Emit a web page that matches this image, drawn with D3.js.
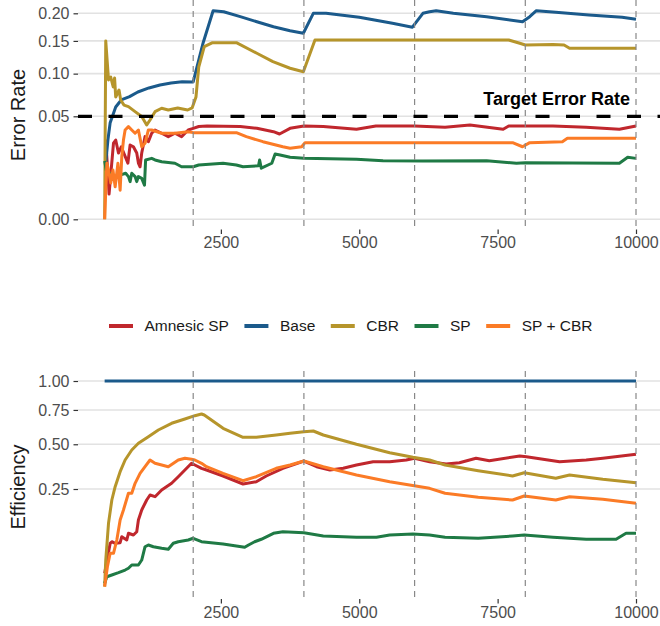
<!DOCTYPE html>
<html>
<head>
<meta charset="utf-8">
<script src="https://cdn.jsdelivr.net/npm/d3@7"></script>
<style>
  body { margin: 0; background: #fff; }
  svg { display: block; font-family: 'Liberation Sans', Arial, sans-serif; }
</style>
</head>
<body>
<svg id="chart" width="660" height="626"></svg>
<script>
// methods, in legend order
const methods = ['Amnesic SP', 'Base', 'CBR', 'SP', 'SP + CBR']
const colours = ['#c0272d', '#1b5a8b', '#b6952b', '#1f7a45', '#fb7b26']

const errorTicks = [0, 0.05, 0.1, 0.15, 0.2]
const efficiencyTicks = [0.25, 0.5, 0.75, 1]
const stepTicks = [2500, 5000, 7500, 10000]
const changePoints = [2000, 4000, 6000, 8000, 10000]
const targetErrorRate = 0.05

// error rate, [step, value]
const errorAmnesicSP = [[420,.03],[480,.003],[560,.0274],[600,.0296],[650,.0207],[700,.0248],[820,.0149],[860,.026],[920,.0248],[980,.0207],[1010,.0149],[1040,.013],[1070,.0207],[1130,.0322],[1190,.0284],[1250,.0349],[1310,.0376],[1430,.0349],[1550,.0322],[1670,.0349],[1790,.0322],[1910,.0376],[2000,.039],[2100,.0406],[2250,.041],[2850,.0405],[3150,.039],[3450,.0362],[3560,.0343],[3750,.039],[4000,.041],[4350,.0405],[4950,.0382],[5300,.041],[6000,.041],[6550,.0399],[7000,.0419],[7600,.0382],[7700,.041],[8500,.041],[9100,.0399],[9700,.0382],[10000,.041]]
const errorBase = [[420,.015],[460,.03],[500,.044],[600,.0594],[700,.0671],[850,.0709],[1000,.0764],[1200,.0813],[1400,.085],[1600,.0876],[1800,.0892],[2000,.089],[2180,.147],[2360,.205],[2550,.2031],[2850,.1935],[3150,.184],[3450,.1748],[3750,.1677],[3990,.1631],[4170,.2],[4400,.2],[5000,.1923],[5600,.1811],[5960,.174],[6150,.2],[6270,.203],[6390,.205],[6700,.2],[7300,.1935],[7950,.184],[8080,.1935],[8200,.205],[8550,.202],[9150,.1968],[9750,.1923],[10000,.1885]]
const errorCBR = [[400,0],[420,.15],[470,.0915],[510,.0954],[555,.0825],[580,.094],[600,.0705],[660,.0788],[690,.0671],[750,.0615],[830,.0598],[950,.0546],[1070,.0498],[1160,.0419],[1220,.0465],[1310,.0546],[1430,.0581],[1550,.0563],[1720,.0584],[1900,.0563],[1980,.0584],[2050,.0705],[2100,.1093],[2200,.1404],[2350,.147],[2780,.147],[3150,.1299],[3440,.1171],[3750,.1075],[3990,.1027],[4200,.1515],[7700,.1515],[7900,.146],[8000,.1432],[8500,.144],[8700,.1432],[8800,.1378],[10000,.1378]]
const errorSP = [[400,.016],[440,.01],[500,.01],[600,.0086],[690,.0093],[780,.01],[830,.0086],[860,.0067],[890,.01],[950,.0086],[980,.0067],[1010,.0086],[1070,.0079],[1120,.0055],[1140,.0166],[1250,.0175],[1310,.0166],[1430,.0156],[1670,.0148],[1790,.013],[2000,.013],[2100,.0139],[2540,.0148],[2780,.0139],[2900,.013],[3180,.0135],[3200,.0166],[3230,.0123],[3420,.0148],[3480,.0201],[3570,.0195],[3750,.0181],[4000,.0175],[4950,.017],[5430,.0162],[6150,.016],[7300,.0162],[7840,.0148],[8000,.0151],[9700,.0148],[9850,.0181],[10000,.0175]]
const errorSPCBR = [[400,0],[440,.0148],[470,.0115],[510,.0062],[550,.0115],[590,.005],[640,.0148],[680,.004],[710,.0185],[740,.0296],[770,.0376],[830,.0405],[890,.0376],[950,.0349],[1010,.0376],[1070,.0248],[1130,.0272],[1190,.0376],[1250,.0376],[1430,.0349],[1670,.0349],[1910,.0362],[2000,.0354],[2780,.0354],[2960,.0322],[3260,.0284],[3620,.0248],[3750,.0238],[3960,.0248],[4020,.0277],[7770,.0277],[7950,.0248],[8080,.0277],[8670,.0284],[8760,.0309],[10000,.0309]]

// efficiency, [step, value]
const effAmnesicSP = [[400,.012],[500,.0618],[530,.0655],[590,.0618],[680,.0632],[710,.0779],[800,.0696],[830,.087],[920,.0824],[980,.0914],[1010,.1271],[1070,.1622],[1160,.2017],[1220,.223],[1310,.2156],[1430,.2454],[1610,.2771],[1730,.3102],[1850,.3457],[1970,.3831],[2030,.3735],[2150,.355],[2240,.3457],[2540,.3138],[2900,.2737],[3140,.2849],[3320,.3138],[3620,.355],[4000,.3964],[4230,.3639],[4470,.3457],[4710,.355],[4950,.3735],[5250,.3924],[5550,.3924],[5850,.4023],[6000,.4123],[6270,.3924],[6570,.3791],[6810,.3866],[7110,.4123],[7350,.3982],[7900,.4261],[8020,.4216],[8620,.3924],[9100,.4023],[9400,.4123],[10000,.4365]]
const effBase = [[400,1],[2000,1],[4000,1],[6000,1],[8000,1],[10000,1]]
const effCBR = [[400,.0023],[420,.0293],[470,.1164],[530,.2017],[590,.2607],[680,.3365],[770,.4023],[890,.4632],[1010,.5063],[1190,.5508],[1370,.5977],[1610,.6467],[1850,.6791],[2030,.7045],[2150,.7178],[2200,.71],[2540,.61],[2900,.5467],[3140,.5467],[3500,.5625],[3750,.5744],[4000,.5857],[4170,.5907],[4350,.5625],[4950,.5],[5550,.4463],[5970,.4183],[6270,.4023],[6550,.3735],[7150,.3419],[7770,.3138],[7980,.3312],[8550,.302],[8800,.319],[9400,.2969],[10000,.28]]
const effSP = [[400,.004],[440,.0088],[530,.0104],[650,.0127],[770,.0156],[830,.0177],[890,.0219],[1010,.0219],[1070,.0293],[1130,.0542],[1190,.058],[1280,.0542],[1430,.0508],[1550,.0488],[1640,.0618],[1730,.0655],[1910,.0696],[2000,.0739],[2150,.0655],[2540,.0602],[2930,.0529],[3000,.058],[3110,.0655],[3230,.0714],[3450,.087],[3620,.0914],[4000,.0886],[4350,.0798],[4950,.0764],[5310,.0764],[5550,.0824],[5970,.0851],[6270,.0824],[6550,.0764],[7150,.0739],[7770,.0798],[7980,.0824],[8500,.0764],[9100,.0714],[9640,.0714],[9820,.087],[10000,.087]]
const effSPCBR = [[400,.0023],[450,.0197],[500,.0409],[560,.0409],[590,.0542],[620,.0696],[680,.1271],[740,.1622],[830,.2305],[890,.2305],[950,.2771],[1040,.328],[1130,.3639],[1220,.4023],[1310,.3831],[1430,.3735],[1550,.3639],[1730,.4023],[1850,.4123],[1970,.4064],[2030,.4023],[2150,.3831],[2240,.3639],[2540,.328],[2900,.2899],[3140,.3102],[3500,.355],[3750,.3735],[4000,.3964],[4350,.3639],[4950,.319],[5550,.2849],[6270,.2532],[6550,.2305],[7150,.2131],[7770,.2017],[7980,.2186],[8550,.2017],[8800,.2156],[9400,.2046],[10000,.1882]]

const errorSeries = [errorAmnesicSP, errorBase, errorCBR, errorSP, errorSPCBR]
const effSeries = [effAmnesicSP, effBase, effCBR, effSP, effSPCBR]

const svg = d3.select('#chart')
const panelLeft = 78
const panelRight = 660

const x = d3.scaleLinear().domain([0, 10000]).range([82.5, 636])

const panels = [
  { title: 'Error Rate', series: errorSeries, ticks: errorTicks, top: 0, bottom: 229.5, titleY: 115,
    y: d3.scaleSqrt().domain([0, 0.2]).range([219.3, 13.3]) },
  { title: 'Efficiency', series: effSeries, ticks: efficiencyTicks, top: 371, bottom: 599, titleY: 487,
    y: d3.scaleSqrt().domain([0, 1]).range([597, 381]) }
]

panels.forEach((p, i) => {
  const g = svg.append('g')

  // horizontal grid
  g.selectAll('.grid')
    .data(p.ticks)
    .join('line')
    .attr('x1', panelLeft).attr('x2', panelRight)
    .attr('y1', d => p.y(d)).attr('y2', d => p.y(d))
    .attr('stroke', '#e2e2e2')
    .attr('stroke-width', 1.6)

  // y axis
  const yAxis = g.append('g')
    .attr('transform', `translate(${panelLeft},0)`)
    .call(d3.axisLeft(p.y).tickValues(p.ticks).tickFormat(d3.format('.2f')).tickSize(4.5).tickPadding(4))
  // x axis
  const xAxis = g.append('g')
    .attr('transform', `translate(0,${p.bottom})`)
    .call(d3.axisBottom(x).tickValues(stepTicks).tickFormat(d3.format('d')).tickSize(4.5).tickPadding(3))
  ;[yAxis, xAxis].forEach(a => {
    a.select('.domain').remove()
    a.selectAll('.tick line').attr('stroke', '#333').attr('stroke-width', 1.2)
    a.selectAll('.tick text').attr('fill', '#4d4d4d').style('font-size', '16px')
      .style('font-family', "'Liberation Sans', Arial, sans-serif")
  })

  // data lines
  const line = d3.line().x(d => x(d[0])).y(d => p.y(d[1]))
  g.selectAll('.series')
    .data(p.series)
    .join('path')
    .attr('d', line)
    .attr('fill', 'none')
    .attr('stroke', (d, j) => colours[j])
    .attr('stroke-width', 3)
    .attr('stroke-linejoin', 'round')

  // change points
  g.selectAll('.vline')
    .data(changePoints)
    .join('line')
    .attr('x1', d => x(d)).attr('x2', d => x(d))
    .attr('y1', p.top).attr('y2', p.bottom)
    .attr('stroke', '#888')
    .attr('stroke-width', 1.2)
    .attr('stroke-dasharray', '6,5')

  // axis title
  g.append('text')
    .attr('transform', `translate(25,${p.titleY}) rotate(-90)`)
    .attr('text-anchor', 'middle')
    .attr('fill', '#1a1a1a')
    .style('font-size', '20px')
    .text(p.title)

  if (i === 0) {
    g.append('line')
      .attr('x1', panelLeft).attr('x2', panelRight)
      .attr('y1', p.y(targetErrorRate)).attr('y2', p.y(targetErrorRate))
      .attr('stroke', '#000')
      .attr('stroke-width', 3.2)
      .attr('stroke-dasharray', '14,16.5')
    g.append('text')
      .attr('x', 630).attr('y', 105)
      .attr('text-anchor', 'end')
      .attr('fill', '#000')
      .style('font-size', '18px')
      .style('font-weight', 'bold')
      .text('Target Error Rate')
  }
})

// legend
const legend = svg.append('g').attr('transform', 'translate(0,326)')
let lx = 109
methods.forEach((m, i) => {
  legend.append('line')
    .attr('x1', lx).attr('x2', lx + 24)
    .attr('stroke', colours[i])
    .attr('stroke-width', 4)
  const t = legend.append('text')
    .attr('x', lx + 35.5)
    .attr('dy', '0.35em')
    .attr('fill', '#1a1a1a')
    .style('font-size', '15.5px')
    .text(m)
  lx += 35.5 + t.node().getComputedTextLength() + 15.5
})
</script>
</body>
</html>
